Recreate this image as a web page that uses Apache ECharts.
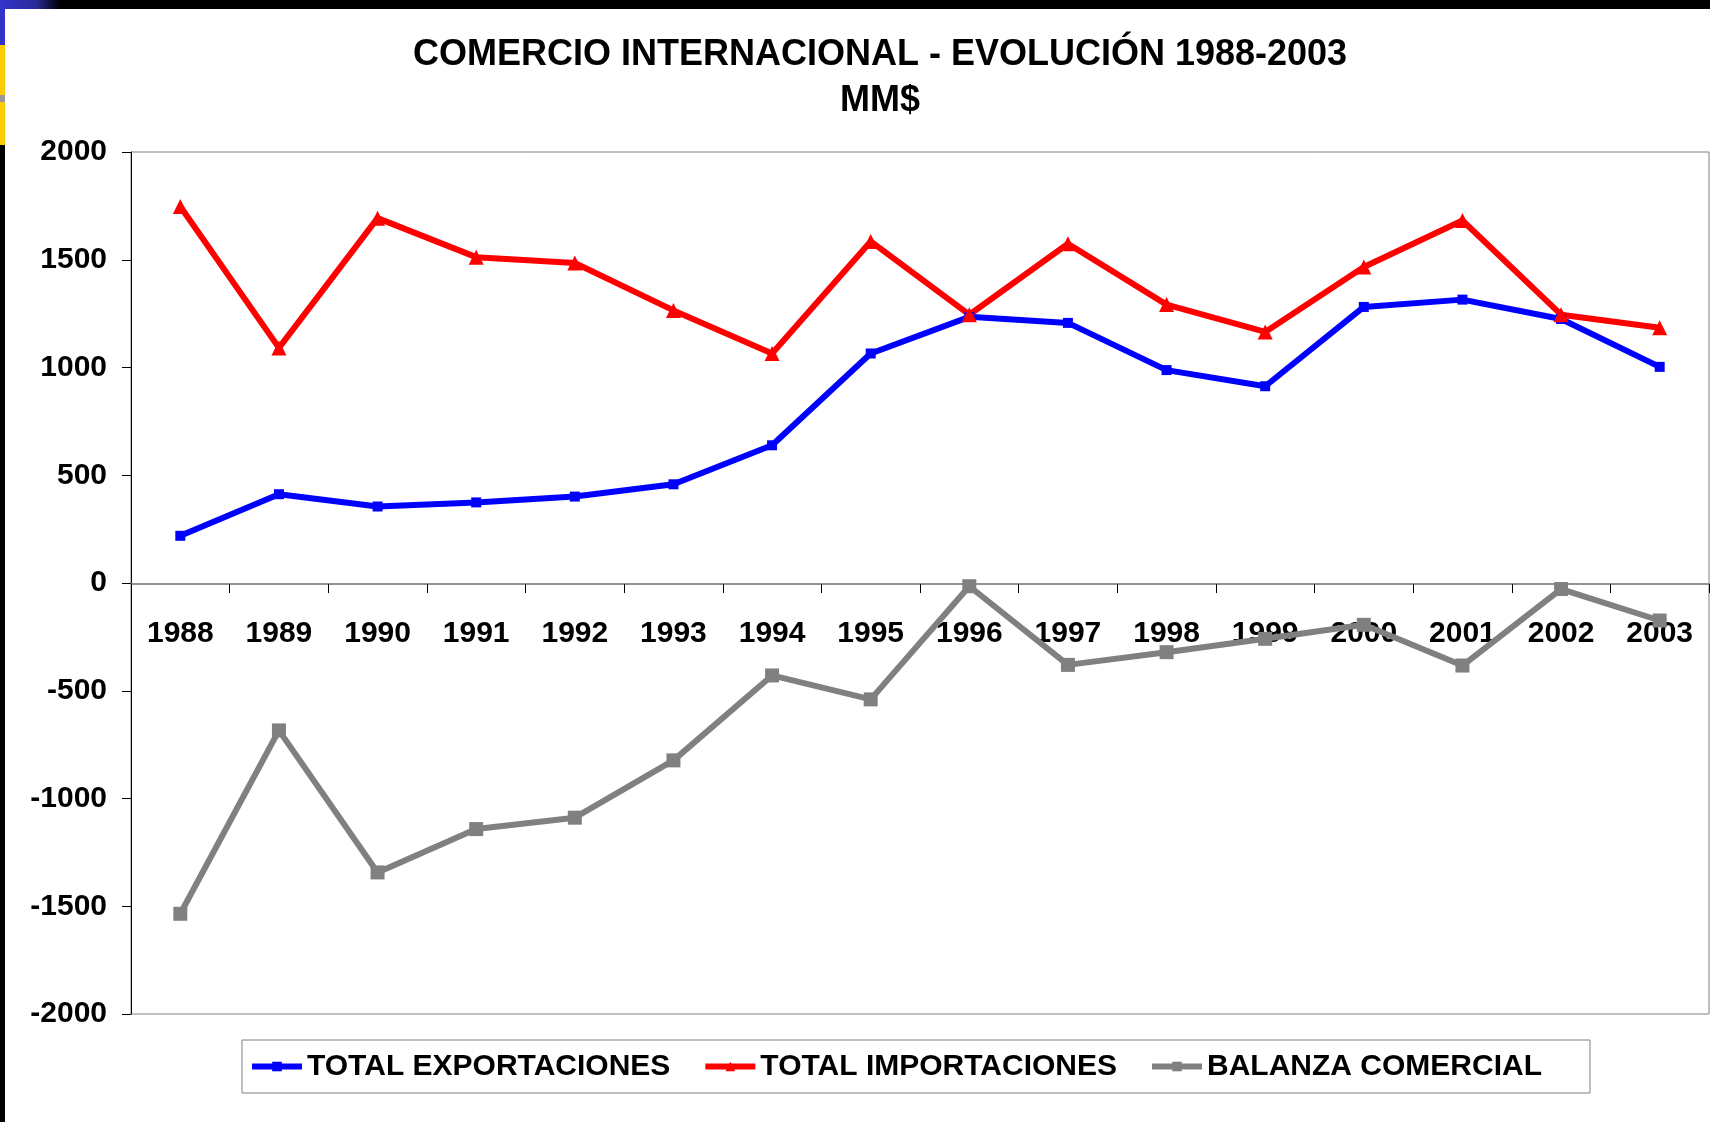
<!DOCTYPE html>
<html>
<head>
<meta charset="utf-8">
<title>Comercio internacional 1988-2003</title>
<script src="https://cdn.jsdelivr.net/npm/echarts@6/dist/echarts.min.js"></script>
<style>
    html, body { margin: 0; padding: 0; background: #fff; }
    #grafico { width: 1710px; height: 1122px; }
</style>
</head>
<body>
<div id="grafico"></div>
<script>
// datos (MM$)
const anios = ['1988', '1989', '1990', '1991', '1992', '1993', '1994', '1995',
    '1996', '1997', '1998', '1999', '2000', '2001', '2002', '2003'];
const exportaciones = [219, 412, 355, 374, 401, 458, 639, 1065, 1235, 1207, 988, 913, 1281, 1315, 1225, 1003];
const importaciones = [1747, 1091, 1693, 1512, 1485, 1265, 1065, 1585, 1245, 1574, 1292, 1165, 1466, 1682, 1245, 1184];
const balanza = [-1535, -684, -1343, -1142, -1089, -823, -429, -540, -15, -380, -321, -259, -194, -383, -28, -174];

const fuente = '"Liberation Sans", Arial, sans-serif';

const chartDom = document.getElementById('grafico');
const myChart = echarts.init(chartDom);

const option = {
    backgroundColor: '#fff',
    animation: false,
    title: {
        text: 'COMERCIO INTERNACIONAL - EVOLUCIÓN 1988-2003\nMM$',
        left: 880,
        top: 32,
        padding: 0,
        textAlign: 'center',
        textStyle: {
            fontFamily: fuente,
            fontSize: 36,
            fontWeight: 'bold',
            color: '#000',
            lineHeight: 46
        }
    },
    legend: {
        left: 242,
        top: 1040,
        padding: [10, 48, 10, 7],
        borderColor: '#808080',
        borderWidth: 1,
        itemGap: 32,
        itemWidth: 50,
        itemHeight: 12,
        lineStyle: { width: 6 },
        textStyle: {
            fontFamily: fuente,
            fontSize: 30,
            fontWeight: 'bold',
            color: '#000',
            lineHeight: 33
        },
        data: ['TOTAL EXPORTACIONES', 'TOTAL IMPORTACIONES', 'BALANZA COMERCIAL']
    },
    grid: {
        left: 131,
        top: 152,
        width: 1578,
        height: 862,
        show: true,
        borderColor: '#808080',
        borderWidth: 1,
        backgroundColor: 'transparent'
    },
    xAxis: {
        type: 'category',
        data: anios,
        boundaryGap: true,
        position: 'bottom',
        // el eje de categorias va sobre la linea del cero (-2000..0 = 430 px)
        offset: -430,
        z: 3,
        axisLine: { onZero: false, lineStyle: { color: '#707070', width: 1.5 } },
        axisTick: { show: true, length: 9, lineStyle: { color: '#000' } },
        axisLabel: {
            margin: 35,
            fontFamily: fuente,
            fontSize: 30,
            fontWeight: 'bold',
            color: '#000'
        },
        splitLine: { show: false }
    },
    yAxis: {
        type: 'value',
        min: -2000,
        max: 2000,
        interval: 500,
        axisLine: { show: true, lineStyle: { color: '#000', width: 1 } },
        axisTick: { show: true, length: 9, lineStyle: { color: '#000' } },
        axisLabel: {
            margin: 24,
            fontFamily: fuente,
            fontSize: 30,
            fontWeight: 'bold',
            color: '#000',
            formatter: function (v) { return String(v); }
        },
        splitLine: { show: false }
    },
    series: [
        {
            name: 'TOTAL EXPORTACIONES',
            type: 'line',
            data: exportaciones,
            symbol: 'rect',
            symbolSize: 10,
            itemStyle: { color: '#0000ff' },
            lineStyle: { color: '#0000ff', width: 6 }
        },
        {
            name: 'TOTAL IMPORTACIONES',
            type: 'line',
            data: importaciones,
            symbol: 'triangle',
            symbolSize: 15,
            itemStyle: { color: '#ff0000' },
            lineStyle: { color: '#ff0000', width: 6 }
        },
        {
            name: 'BALANZA COMERCIAL',
            type: 'line',
            data: balanza,
            symbol: 'rect',
            symbolSize: 14,
            itemStyle: { color: '#808080' },
            lineStyle: { color: '#808080', width: 6 }
        }
    ],
    // marco de la diapositiva (franjas negra, azul y amarilla)
    graphic: [
        { type: 'rect', shape: { x: 0, y: 0, width: 1710, height: 9 }, style: { fill: '#000' }, silent: true },
        { type: 'rect', shape: { x: 0, y: 0, width: 5, height: 1122 }, style: { fill: '#000' }, silent: true },
        {
            type: 'rect', shape: { x: 0, y: 0, width: 60, height: 9 }, silent: true,
            style: {
                fill: new echarts.graphic.LinearGradient(0, 0, 1, 0, [
                    { offset: 0, color: '#3333cc' },
                    { offset: 0.6, color: '#2a2a99' },
                    { offset: 1, color: '#000' }
                ])
            }
        },
        { type: 'rect', shape: { x: 0, y: 0, width: 5, height: 45 }, style: { fill: '#3333cc' }, silent: true },
        { type: 'rect', shape: { x: 0, y: 45, width: 5, height: 50 }, style: { fill: '#ffcc00' }, silent: true },
        { type: 'rect', shape: { x: 0, y: 95, width: 5, height: 7 }, style: { fill: '#999999' }, silent: true },
        { type: 'rect', shape: { x: 0, y: 102, width: 5, height: 43 }, style: { fill: '#ffcc00' }, silent: true }
    ]
};

myChart.setOption(option);
</script>
</body>
</html>
